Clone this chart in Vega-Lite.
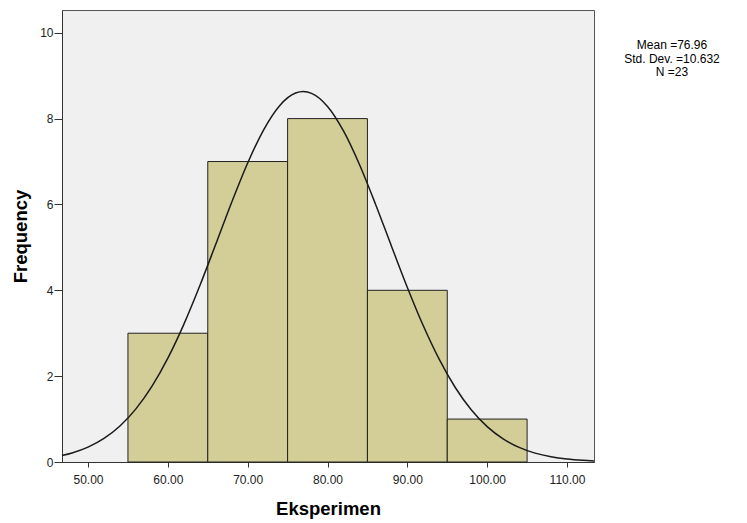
{
  "$schema": "https://vega.github.io/schema/vega-lite/v6.json",
  "width": 532,
  "height": 452,
  "autosize": "none",
  "padding": {"left": 62, "top": 10, "right": 153, "bottom": 61},
  "background": "white",
  "config": {
    "view": {"fill": "#F0F0F0", "stroke": "#555555", "strokeWidth": 1},
    "font": "Liberation Sans"
  },
  "title": {
    "text": ["Mean =76.96", "Std. Dev. =10.632", "N =23"],
    "orient": "top",
    "anchor": "end",
    "align": "center",
    "baseline": "top",
    "dx": 75,
    "dy": 69,
    "offset": 0,
    "font": "Liberation Sans",
    "fontSize": 12,
    "fontWeight": "normal",
    "lineHeight": 13.5,
    "color": "#000000"
  },
  "datasets": {
    "bars": [
      {"bin_start": 55, "bin_end": 65, "count": 3},
      {"bin_start": 65, "bin_end": 75, "count": 7},
      {"bin_start": 75, "bin_end": 85, "count": 8},
      {"bin_start": 85, "bin_end": 95, "count": 4},
      {"bin_start": 95, "bin_end": 105, "count": 1}
    ],
    "curve": [
      {"x": 46.74, "f": 0.152}, {"x": 48, "f": 0.211}, {"x": 50, "f": 0.346},
      {"x": 52, "f": 0.548}, {"x": 54, "f": 0.838}, {"x": 56, "f": 1.237},
      {"x": 58, "f": 1.760}, {"x": 60, "f": 2.418}, {"x": 62, "f": 3.207},
      {"x": 64, "f": 4.105}, {"x": 66, "f": 5.073}, {"x": 68, "f": 6.051},
      {"x": 70, "f": 6.965}, {"x": 72, "f": 7.740}, {"x": 74, "f": 8.302},
      {"x": 76, "f": 8.595}, {"x": 76.96, "f": 8.630}, {"x": 78, "f": 8.589},
      {"x": 80, "f": 8.284}, {"x": 82, "f": 7.713}, {"x": 84, "f": 6.931},
      {"x": 86, "f": 6.012}, {"x": 88, "f": 5.034}, {"x": 90, "f": 4.067},
      {"x": 92, "f": 3.173}, {"x": 94, "f": 2.389}, {"x": 96, "f": 1.736},
      {"x": 98, "f": 1.218}, {"x": 100, "f": 0.825}, {"x": 102, "f": 0.539},
      {"x": 104, "f": 0.340}, {"x": 106, "f": 0.207}, {"x": 108, "f": 0.122},
      {"x": 110, "f": 0.069}, {"x": 112, "f": 0.038}, {"x": 113.38, "f": 0.024}
    ]
  },
  "layer": [
    {
      "data": {"name": "bars"},
      "mark": {"type": "rect", "fill": "#D3CE97", "stroke": "#222222", "strokeWidth": 1},
      "encoding": {
        "x": {
          "field": "bin_start", "type": "quantitative",
          "scale": {"domain": [46.74, 113.38], "nice": false, "zero": false},
          "axis": {
            "title": "Eksperimen",
            "values": [50, 60, 70, 80, 90, 100, 110],
            "format": ".2f",
            "grid": false,
            "domainColor": "#333333",
            "tickColor": "#333333",
            "tickSize": 5,
            "labelFont": "Liberation Sans",
            "labelFontSize": 12,
            "labelColor": "#222222",
            "labelPadding": 7,
            "titleFont": "Liberation Sans",
            "titleFontSize": 18.5,
            "titleFontWeight": "bold",
            "titleColor": "#000000",
            "titlePadding": 14
          }
        },
        "x2": {"field": "bin_end"},
        "y": {
          "field": "count", "type": "quantitative",
          "scale": {"domain": [0, 10.53], "nice": false},
          "axis": {
            "title": "Frequency",
            "values": [0, 2, 4, 6, 8, 10],
            "grid": false,
            "domainColor": "#333333",
            "tickColor": "#333333",
            "tickSize": 8,
            "labelFont": "Liberation Sans",
            "labelFontSize": 12,
            "labelColor": "#222222",
            "labelPadding": 1,
            "titleFont": "Liberation Sans",
            "titleFontSize": 18.5,
            "titleFontWeight": "bold",
            "titleColor": "#000000",
            "titlePadding": 9
          }
        },
        "y2": {"datum": 0}
      }
    },
    {
      "data": {"name": "curve"},
      "mark": {"type": "line", "color": "#1a1a1a", "strokeWidth": 1.5, "interpolate": "monotone"},
      "encoding": {
        "x": {"field": "x", "type": "quantitative"},
        "y": {"field": "f", "type": "quantitative"}
      }
    }
  ]
}
